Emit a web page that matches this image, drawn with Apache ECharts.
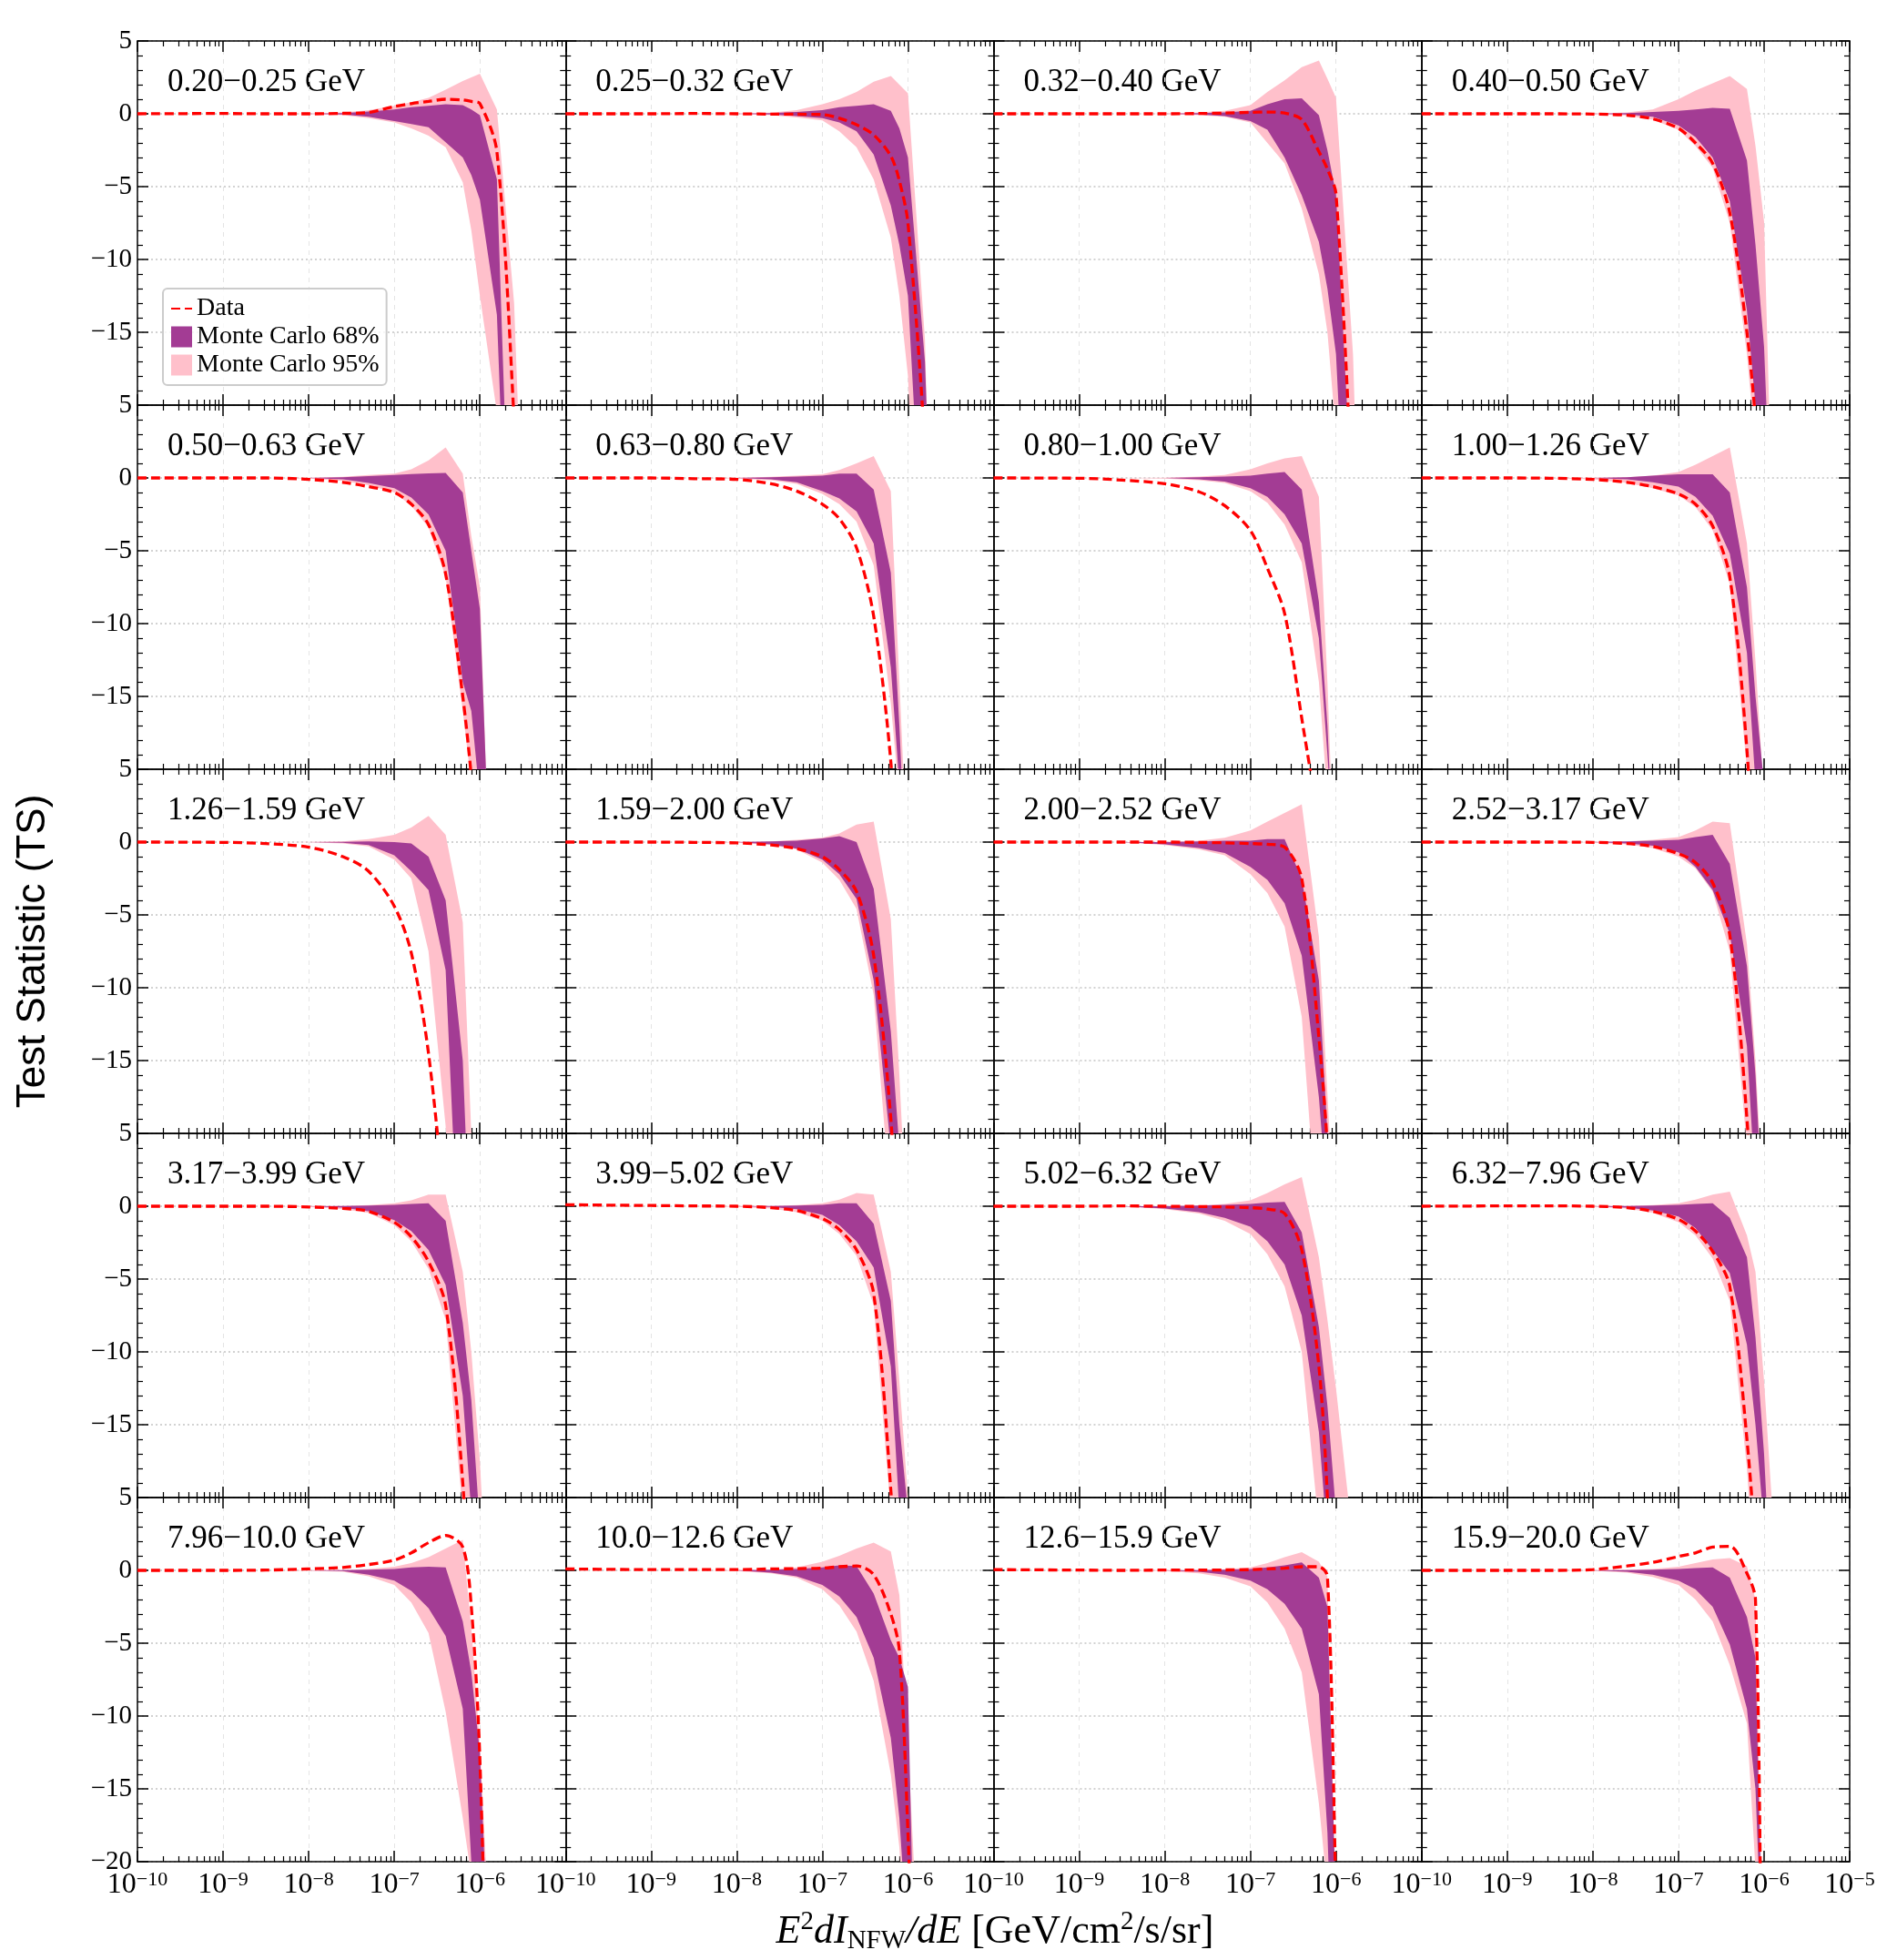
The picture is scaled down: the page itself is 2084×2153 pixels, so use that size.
<!DOCTYPE html>
<html>
<head>
<meta charset="utf-8">
<script src="https://cdn.jsdelivr.net/npm/echarts@6/dist/echarts.min.js"></script>
<style>
  html, body { margin: 0; padding: 0; background: #fff; }
  #chart { width: 2084px; height: 2153px; }
</style>
</head>
<body>
<div id="chart"></div>
<script>
// energy bin of every panel (row by row)
const binLabels = [
  '0.20−0.25 GeV', '0.25−0.32 GeV', '0.32−0.40 GeV', '0.40−0.50 GeV',
  '0.50−0.63 GeV', '0.63−0.80 GeV', '0.80−1.00 GeV', '1.00−1.26 GeV',
  '1.26−1.59 GeV', '1.59−2.00 GeV', '2.00−2.52 GeV', '2.52−3.17 GeV',
  '3.17−3.99 GeV', '3.99−5.02 GeV', '5.02−6.32 GeV', '6.32−7.96 GeV',
  '7.96−10.0 GeV', '10.0−12.6 GeV', '12.6−15.9 GeV', '15.9−20.0 GeV'
];

// E^2 dI/dE sample points [GeV/cm2/s/sr], shared by all panels
const fluxGrid = [1e-10, 1e-9, 3.16e-9, 1e-8, 2.51e-8, 5.01e-8, 1e-7, 1.58e-7,
  2.51e-7, 3.98e-7, 6.31e-7, 7.94e-7, 1e-6, 1.58e-6, 2.51e-6, 3.98e-6];

const xRange = [1e-10, 1e-5];
const yRange = [-20, 5];

// observed TS profile
const dataTS = [
  [0, 0.02, 0, 0, 0.03, 0.1, 0.5, 0.7, 0.85, 1.0, 0.95, 0.85, 0.7, -2.6, -21, -45],
  [0, 0, 0.02, 0, -0.02, -0.03, -0.05, -0.3, -0.75, -1.45, -2.9, -4.6, -7.5, -23, -50, -70],
  [0, 0, 0, 0, 0.02, 0.05, 0.1, 0.12, 0.05, -0.4, -2.6, -3.8, -5.5, -27, -50, -70],
  [0, 0, 0, -0.02, -0.1, -0.35, -1.0, -2.0, -3.4, -6.8, -15, -21, -30, -50, -70, -90],
  [0, 0, 0, -0.1, -0.3, -0.6, -1.0, -1.8, -3.2, -6.6, -15, -20.5, -28, -50, -70, -90],
  [0, 0, -0.05, -0.1, -0.4, -0.9, -1.8, -2.8, -4.8, -9.5, -19.5, -30, -40, -60, -80, -90],
  [0, -0.02, -0.15, -0.4, -0.95, -1.9, -3.6, -6.2, -9.3, -16.5, -24, -30, -40, -60, -80, -90],
  [0, 0, -0.02, -0.1, -0.3, -0.6, -1.1, -1.8, -3.3, -6.8, -18.7, -30, -40, -60, -80, -90],
  [0, -0.02, -0.1, -0.35, -1.0, -2.0, -4.4, -7.6, -14.5, -26, -40, -50, -60, -70, -80, -90],
  [0, 0, -0.02, -0.06, -0.2, -0.45, -1.0, -1.9, -3.4, -7.8, -19, -30, -40, -60, -80, -90],
  [0, 0, 0, 0, -0.02, -0.05, -0.1, -0.15, -0.35, -2.5, -13.4, -21, -35, -60, -80, -90],
  [0, 0, 0, -0.02, -0.1, -0.3, -0.8, -1.4, -2.8, -6.4, -19, -30, -40, -60, -80, -90],
  [0, 0, 0, -0.05, -0.15, -0.35, -1.1, -2.1, -3.8, -6.8, -19, -30, -40, -60, -80, -90],
  [0.1, 0.05, 0.02, 0, -0.1, -0.3, -0.85, -1.6, -3.0, -6.0, -19.5, -30, -40, -60, -80, -90],
  [0, 0, 0.02, 0, -0.02, -0.05, -0.1, -0.2, -0.5, -3.0, -11, -20, -35, -60, -80, -90],
  [0, 0.02, 0.02, 0, -0.1, -0.35, -0.9, -1.7, -3.1, -5.5, -16, -24, -40, -60, -80, -90],
  [0, 0, 0.02, 0.1, 0.2, 0.4, 0.7, 1.2, 1.9, 2.4, 1.6, -2.5, -13, -55, -70, -90],
  [0.1, 0.05, 0.05, 0.05, 0.1, 0.12, 0.15, 0.25, 0.3, -0.3, -3.0, -5.5, -18, -50, -70, -90],
  [0.05, 0.02, 0, 0.02, 0.02, 0.03, 0.05, 0.1, 0.15, 0.25, 0.25, -0.4, -22, -60, -80, -90],
  [0, 0, 0, 0.05, 0.3, 0.55, 0.95, 1.2, 1.6, 1.65, -0.2, -2.0, -35, -60, -80, -90]
];

// Monte Carlo 95% band, upper edge
const mc95High = [
  [0, 0, 0, 0.02, 0.1, 0.25, 0.55, 0.8, 1.1, 1.65, 2.25, 2.5, 2.75, 0.3, -13, -45],
  [0, 0, 0, 0.02, 0.08, 0.25, 0.65, 1.0, 1.5, 2.2, 2.6, 2.0, 1.4, -15.5, -60, -80],
  [0, 0, 0, 0.02, 0.1, 0.2, 0.6, 1.5, 2.3, 3.2, 3.65, 2.4, 1.1, -16.5, -55, -80],
  [0, 0, 0, 0.02, 0.1, 0.3, 1.0, 1.6, 2.1, 2.6, 1.7, -2.2, -7.4, -50, -70, -90],
  [0, 0, 0, 0.02, 0.08, 0.2, 0.3, 0.6, 1.2, 2.1, 0.3, -4, -7.5, -43, -70, -90],
  [0, 0, 0, 0.02, 0.08, 0.15, 0.25, 0.55, 1.0, 1.5, -0.9, -14, -27, -60, -80, -90],
  [0, 0, 0, 0.02, 0.1, 0.2, 0.6, 1.0, 1.35, 1.5, -1.3, -14, -30, -60, -80, -90],
  [0, 0, 0, 0.02, 0.05, 0.15, 0.4, 0.9, 1.5, 2.1, -4.5, -12.6, -22, -60, -80, -90],
  [0, 0, 0, 0.02, 0.05, 0.2, 0.5, 1.0, 1.8, 0.5, -5.5, -20, -35, -60, -80, -90],
  [0, 0, 0, 0.02, 0.05, 0.15, 0.3, 0.6, 1.2, 1.4, -5.3, -16, -28, -60, -80, -90],
  [0, 0, 0, 0.02, 0.1, 0.3, 0.8, 1.4, 2.0, 2.6, -6.5, -17.3, -28, -60, -80, -90],
  [0, 0, 0, 0.02, 0.05, 0.15, 0.35, 0.8, 1.4, 1.3, -7, -15, -26, -60, -80, -90],
  [0, 0, 0, 0.02, 0.02, 0.08, 0.2, 0.4, 0.8, 0.8, -4.5, -10, -17.5, -40, -80, -90],
  [0, 0, 0, 0.02, 0.02, 0.08, 0.2, 0.45, 0.9, 0.8, -4.5, -12, -20, -40, -80, -90],
  [0, 0, 0, 0.02, 0.05, 0.15, 0.4, 0.9, 1.5, 2.0, -3.5, -7.8, -12.5, -23, -50, -90],
  [0, 0, 0, 0.02, 0.02, 0.08, 0.2, 0.45, 0.8, 1.0, -2.0, -4.5, -12, -30, -80, -90],
  [0, 0, 0, 0.02, 0.02, 0.1, 0.25, 0.5, 0.9, 1.5, 2.1, -4, -12, -35, -70, -90],
  [0, 0, 0, 0.02, 0.05, 0.2, 0.6, 1.0, 1.5, 1.9, 1.3, -1.7, -12, -35, -70, -90],
  [0, 0, 0, 0.02, 0.02, 0.08, 0.2, 0.5, 0.9, 1.25, 0.6, -0.4, -25, -50, -80, -90],
  [0, 0, 0, 0.02, 0.05, 0.1, 0.25, 0.5, 0.75, 0.85, 0.3, -2.0, -30, -60, -80, -90]
];

// Monte Carlo 68% band, upper edge
const mc68High = [
  [0, 0, 0, 0, 0.05, 0.15, 0.3, 0.45, 0.55, 0.65, 0.6, 0.3, -0.1, -4.5, -40, -60],
  [0, 0, 0, 0, 0.05, 0.12, 0.25, 0.45, 0.55, 0.65, 0.2, -1.0, -3.0, -17, -50, -70],
  [0, 0, 0, 0, 0.05, 0.1, 0.2, 0.65, 1.0, 1.06, -0.1, -2.5, -5.5, -28, -55, -80],
  [0, 0, 0, 0, 0.05, 0.12, 0.2, 0.3, 0.4, 0.35, -3.2, -9, -16, -45, -70, -90],
  [0, 0, 0, 0, 0.05, 0.12, 0.2, 0.27, 0.32, 0.35, -1.0, -5, -9, -40, -70, -90],
  [0, 0, 0, 0, 0.05, 0.1, 0.15, 0.3, 0.3, -0.8, -6.5, -17, -30, -60, -80, -90],
  [0, 0, 0, 0, 0.05, 0.1, 0.15, 0.3, 0.4, -0.8, -8.5, -17, -30, -60, -80, -90],
  [0, 0, 0, 0, 0.05, 0.15, 0.25, 0.25, 0.25, -1.0, -7.5, -15, -21, -60, -80, -90],
  [0, 0, 0, 0, 0.02, 0.05, 0, -0.1, -1.0, -4.0, -15, -30, -40, -60, -80, -90],
  [0, 0, 0, 0, 0.05, 0.1, 0.25, 0.4, 0.0, -3.2, -13, -21, -30, -60, -80, -90],
  [0, 0, 0, 0, 0.05, 0.1, 0.1, 0.2, 0.2, -2.5, -9.5, -20, -30, -60, -80, -90],
  [0, 0, 0, 0, 0.05, 0.1, 0.15, 0.35, 0.5, -1.5, -8.5, -16, -27, -60, -80, -90],
  [0, 0, 0, 0, 0.02, 0.05, 0.1, 0.15, 0.2, -1.0, -8, -13.3, -22, -40, -80, -90],
  [0, 0, 0, 0, 0.02, 0.05, 0.1, 0.2, 0.2, -1.2, -6.5, -15, -21, -40, -80, -90],
  [0, 0, 0, 0, 0.05, 0.1, 0.15, 0.25, 0.3, -1.8, -8.3, -13.7, -21, -40, -80, -90],
  [0, 0, 0, 0, 0.02, 0.05, 0.1, 0.15, 0.2, -0.8, -3.5, -9, -17, -40, -80, -90],
  [0, 0, 0, 0, 0.02, 0.05, 0.1, 0.2, 0.25, 0.2, -3.5, -7, -12.5, -40, -70, -90],
  [0, 0, 0, 0, 0.05, 0.1, 0.2, 0.35, 0.3, -1.6, -4.8, -6, -8, -60, -80, -90],
  [0, 0, 0, 0, 0.02, 0.05, 0.1, 0.2, 0.35, 0.55, -0.5, -2.5, -23, -50, -80, -90],
  [0, 0, 0, 0, 0.02, 0.05, 0.1, 0.15, 0.2, -0.5, -3.2, -6.0, -30, -60, -80, -90]
];

// Monte Carlo 68% band, lower edge
const mc68Low = [
  [0, 0, 0, 0, -0.05, -0.2, -0.5, -0.7, -0.92, -1.96, -3.0, -4.2, -5.9, -13.8, -45, -60],
  [0, 0, 0, 0, -0.05, -0.15, -0.3, -0.6, -1.2, -2.8, -6.3, -9, -12.5, -34, -60, -80],
  [0, 0, 0, 0, -0.05, -0.15, -0.5, -1.1, -3.0, -5.6, -8.8, -12, -16.5, -40, -60, -80],
  [0, 0, 0, 0, -0.05, -0.2, -0.8, -1.6, -3.0, -6.0, -13.5, -20, -27, -50, -70, -90],
  [0, 0, 0, 0, -0.1, -0.35, -0.7, -1.35, -2.5, -5.0, -14, -16, -22, -50, -70, -90],
  [0, 0, 0, 0, -0.1, -0.3, -0.9, -1.4, -2.3, -4.5, -13, -21, -30, -60, -80, -90],
  [0, 0, 0, 0, -0.1, -0.25, -0.7, -1.3, -2.5, -4.5, -11, -19, -28, -60, -80, -90],
  [0, 0, 0, 0, -0.1, -0.3, -0.6, -1.3, -2.6, -5.2, -12, -21, -28, -60, -80, -90],
  [0, 0, 0, 0, -0.05, -0.2, -0.9, -2.0, -3.3, -8.8, -35, -45, -55, -70, -80, -90],
  [0, 0, 0, 0, -0.15, -0.45, -1.2, -2.2, -3.9, -9.5, -21, -30, -40, -60, -80, -90],
  [0, 0, 0, -0.15, -0.4, -0.75, -1.7, -2.6, -4.2, -7.8, -17.5, -25, -40, -60, -80, -90],
  [0, 0, 0, 0, -0.1, -0.25, -0.7, -1.7, -3.3, -6.3, -14, -24, -35, -60, -80, -90],
  [0, 0, 0, 0, -0.1, -0.35, -0.95, -1.7, -3.0, -5.4, -13, -21, -35, -60, -80, -90],
  [0, 0, 0, 0, -0.05, -0.2, -0.6, -1.3, -2.4, -4.2, -11, -21, -35, -60, -80, -90],
  [0, 0, 0, -0.15, -0.4, -0.8, -1.4, -2.4, -4.0, -7.5, -15.5, -23, -35, -60, -80, -90],
  [0, 0, 0, 0, -0.1, -0.3, -0.7, -1.5, -3.0, -4.6, -9.5, -15, -22, -40, -80, -90],
  [0, 0, 0, 0, -0.05, -0.3, -0.7, -1.4, -2.6, -4.5, -9.5, -20, -30, -50, -70, -90],
  [0, 0, 0, 0, -0.15, -0.4, -1.0, -1.8, -3.2, -6.0, -11.5, -17, -26, -60, -80, -90],
  [0, 0, 0, 0, -0.1, -0.3, -0.7, -1.3, -2.3, -4.0, -8.5, -18, -35, -60, -80, -90],
  [0, 0, 0, 0, -0.1, -0.3, -0.7, -1.3, -2.5, -5.1, -9.5, -15, -30, -60, -80, -90]
];

// Monte Carlo 95% band, lower edge
const mc95Low = [
  [0, 0, 0, -0.02, -0.1, -0.3, -0.6, -1.0, -1.5, -2.3, -4.7, -8.0, -12.5, -20.5, -45, -60],
  [0, 0, 0, -0.02, -0.1, -0.25, -0.45, -1.2, -2.3, -4.5, -8.5, -12.5, -18, -45, -60, -80],
  [0, 0, 0, -0.02, -0.1, -0.2, -0.6, -2.0, -3.4, -6.5, -11, -15, -22, -45, -60, -80],
  [0, 0, 0, -0.02, -0.12, -0.4, -1.1, -2.2, -3.7, -7.5, -16.5, -23, -32, -55, -70, -90],
  [0, 0, 0, -0.05, -0.2, -0.5, -1.0, -1.9, -3.4, -6.8, -16, -21, -30, -55, -70, -90],
  [0, 0, 0, -0.05, -0.15, -0.4, -1.1, -1.8, -3.0, -6.0, -15.5, -22, -32, -60, -80, -90],
  [0, 0, 0, -0.05, -0.15, -0.35, -0.9, -1.7, -3.2, -5.8, -14, -22, -32, -60, -80, -90],
  [0, 0, -0.02, -0.1, -0.35, -0.7, -1.2, -2.0, -3.6, -7.3, -20, -30, -40, -60, -80, -90],
  [0, 0, 0, -0.02, -0.1, -0.3, -1.2, -2.5, -7.5, -19.5, -40, -50, -60, -70, -80, -90],
  [0, 0, 0, -0.05, -0.2, -0.5, -1.4, -2.6, -4.6, -10.5, -25, -35, -45, -60, -80, -90],
  [0, 0, 0, -0.2, -0.5, -0.9, -2.2, -3.5, -5.8, -12, -28, -35, -45, -60, -80, -90],
  [0, 0, 0, -0.03, -0.15, -0.4, -1.0, -1.8, -3.4, -7.5, -21, -30, -40, -60, -80, -90],
  [0, 0, 0, -0.05, -0.2, -0.45, -1.3, -2.4, -4.3, -7.8, -21, -30, -40, -60, -80, -90],
  [0, 0, 0, -0.05, -0.15, -0.4, -1.0, -1.9, -3.4, -6.8, -21, -30, -40, -60, -80, -90],
  [0, 0, 0, -0.2, -0.5, -1.0, -1.9, -3.3, -5.5, -10, -22, -30, -40, -60, -80, -90],
  [0, 0, 0, -0.03, -0.15, -0.45, -1.1, -2.0, -3.6, -6.5, -18, -27, -40, -60, -80, -90],
  [0, 0, 0, -0.03, -0.1, -0.4, -1.0, -2.2, -4.3, -9.7, -17, -21, -35, -60, -80, -90],
  [0, 0, 0, -0.05, -0.2, -0.5, -1.3, -2.4, -4.2, -7.6, -14, -19, -30, -60, -80, -90],
  [0, 0, 0, -0.05, -0.2, -0.5, -1.1, -2.2, -4.0, -7.0, -16, -22, -40, -60, -80, -90],
  [0, 0, 0, -0.03, -0.15, -0.45, -1.0, -2.0, -3.5, -6.5, -10.5, -20.5, -40, -60, -80, -90]
];

const SERIF = "'Liberation Serif', 'Times New Roman', serif";
const SANS = "'Liberation Sans', Arial, sans-serif";
const PURPLE = '#a33c94';
const PINK = '#ffc0cb';
const RED = '#ff0000';

const PANEL_W = 470.25;
const PANEL_H = 400;
const LEFT0 = 151;
const TOP0 = 45;

const grids = [];
const xAxes = [];
const yAxes = [];
const series = [];
const graphics = [];

function minus (v) {
  return v < 0 ? '−' + Math.abs(v) : String(v)
}

function bandSeries (name, color, lo, hi, axisIdx, z) {
  const rows = fluxGrid.map((x, k) => [x, lo[k], hi[k]]);
  return {
    type: 'custom',
    name: name,
    xAxisIndex: axisIdx,
    yAxisIndex: axisIdx,
    clip: true,
    silent: true,
    z: z,
    itemStyle: { color: color },
    encode: { x: 0, y: [1, 2] },
    data: rows,
    renderItem: function (params, api) {
      if (params.dataIndex !== 0) return null;
      const upper = rows.map(r => api.coord([r[0], r[2]]));
      const lower = rows.map(r => api.coord([r[0], r[1]])).reverse();
      return {
        type: 'polygon',
        shape: { points: upper.concat(lower) },
        style: { fill: color }
      };
    }
  };
}

binLabels.forEach((label, i) => {
  const row = Math.floor(i / 4);
  const col = i % 4;
  const left = LEFT0 + col * PANEL_W;
  const top = TOP0 + row * PANEL_H;
  grids.push({ left: left, top: top, width: PANEL_W, height: PANEL_H, containLabel: false });

  const axisLine = { show: true, onZero: false, lineStyle: { color: '#000', width: 1.5 } };
  const xCommon = {
    gridIndex: i, type: 'log', logBase: 10, min: xRange[0], max: xRange[1], splitNumber: 5,
    axisLine: axisLine,
    axisTick: { show: true, inside: true, length: 12, lineStyle: { color: '#000', width: 1.5 } },
    minorTick: { show: true, splitNumber: 9, length: 6, lineStyle: { color: '#000', width: 1.2 } }
  };
  xAxes.push(Object.assign({}, xCommon, {
    position: 'bottom',
    splitLine: { show: true, lineStyle: { color: '#e4e4e4', type: [5, 5], width: 1 } },
    axisLabel: {
      show: row === 4,
      showMinLabel: true,
      showMaxLabel: col === 3,
      margin: 9,
      formatter: function (v) {
        const e = Math.round(Math.log10(v));
        return '{b|10}{s|' + minus(e) + '}';
      },
      rich: {
        b: { fontFamily: SERIF, fontSize: 32, color: '#000', lineHeight: 34 },
        s: { fontFamily: SERIF, fontSize: 22, color: '#000', verticalAlign: 'top', lineHeight: 34 }
      }
    }
  }));
  xAxes.push(Object.assign({}, xCommon, {
    position: 'top',
    splitLine: { show: false },
    axisLabel: { show: false }
  }));

  const yCommon = {
    gridIndex: i, type: 'value', min: yRange[0], max: yRange[1], interval: 5,
    axisLine: axisLine,
    axisTick: { show: true, inside: true, length: 12, lineStyle: { color: '#000', width: 1.5 } },
    minorTick: { show: true, splitNumber: 5, length: 6, lineStyle: { color: '#000', width: 1.2 } }
  };
  yAxes.push(Object.assign({}, yCommon, {
    position: 'left',
    splitLine: { show: true, lineStyle: { color: '#c4c4c4', type: [2, 3], width: 1.5 } },
    axisLabel: {
      show: col === 0,
      margin: 6,
      fontFamily: SERIF,
      fontSize: 29,
      color: '#000',
      formatter: function (v) {
        if (v === -20 && row < 4) return '';
        return minus(v);
      }
    }
  }));
  yAxes.push(Object.assign({}, yCommon, {
    position: 'right',
    splitLine: { show: false },
    axisLabel: { show: false }
  }));

  const ax = 2 * i;
  series.push(bandSeries('Monte Carlo 95%', PINK, mc95Low[i], mc95High[i], ax, 2));
  series.push(bandSeries('Monte Carlo 68%', PURPLE, mc68Low[i], mc68High[i], ax, 3));
  series.push({
    type: 'line',
    name: 'Data',
    xAxisIndex: ax,
    yAxisIndex: ax,
    data: fluxGrid.map((x, k) => [x, dataTS[i][k]]),
    symbol: 'none',
    showSymbol: false,
    smooth: 0.3,
    silent: true,
    z: 4,
    itemStyle: { color: RED },
    lineStyle: { color: RED, width: 3.3, type: [10, 5] }
  });

  graphics.push({
    type: 'text',
    x: left + 33,
    y: top + 46,
    style: {
      text: label,
      font: '35px ' + SERIF,
      fill: '#000',
      align: 'left',
      verticalAlign: 'middle',
      textAlign: 'left',
      textVerticalAlign: 'middle'
    }
  });
});

// axis titles
graphics.push({
  type: 'text',
  x: 37,
  y: 1045,
  rotation: Math.PI / 2,
  style: {
    text: 'Test Statistic (TS)',
    font: '44px ' + SANS,
    fill: '#000',
    align: 'center',
    verticalAlign: 'middle',
    textAlign: 'center',
    textVerticalAlign: 'middle'
  }
});
graphics.push({
  type: 'text',
  x: 1093,
  y: 2122,
  style: {
    text: '{i|E}{p|2}{i|dI}{u|NFW}{i|/dE}{r| [GeV/cm}{p|2}{r|/s/sr]}',
    fill: '#000',
    align: 'center',
    verticalAlign: 'middle',
    textAlign: 'center',
    textVerticalAlign: 'middle',
    rich: {
      i: { fontFamily: SERIF, fontStyle: 'italic', fontSize: 44, lineHeight: 50, fill: '#000' },
      r: { fontFamily: SERIF, fontSize: 44, lineHeight: 50, fill: '#000' },
      p: { fontFamily: SERIF, fontSize: 29, lineHeight: 50, verticalAlign: 'top', fill: '#000' },
      u: { fontFamily: SERIF, fontSize: 29, lineHeight: 50, verticalAlign: 'bottom', fill: '#000' }
    }
  }
});

const chart = echarts.init(document.getElementById('chart'));
chart.setOption({
  animation: false,
  backgroundColor: '#fff',
  grid: grids,
  xAxis: xAxes,
  yAxis: yAxes,
  legend: {
    orient: 'vertical',
    left: 179,
    top: 317,
    padding: [8, 8],
    itemGap: 3,
    itemWidth: 23,
    itemHeight: 23,
    backgroundColor: 'rgba(255,255,255,0.8)',
    borderColor: '#cccccc',
    borderWidth: 2,
    borderRadius: 5,
    textStyle: { fontFamily: SERIF, fontSize: 28, color: '#000' },
    data: [
      { name: 'Data', itemStyle: { opacity: 0, color: 'rgba(0,0,0,0)', borderWidth: 0 } },
      { name: 'Monte Carlo 68%', icon: 'rect' },
      { name: 'Monte Carlo 95%', icon: 'rect' }
    ]
  },
  series: series,
  graphic: graphics
});
</script>
</body>
</html>
